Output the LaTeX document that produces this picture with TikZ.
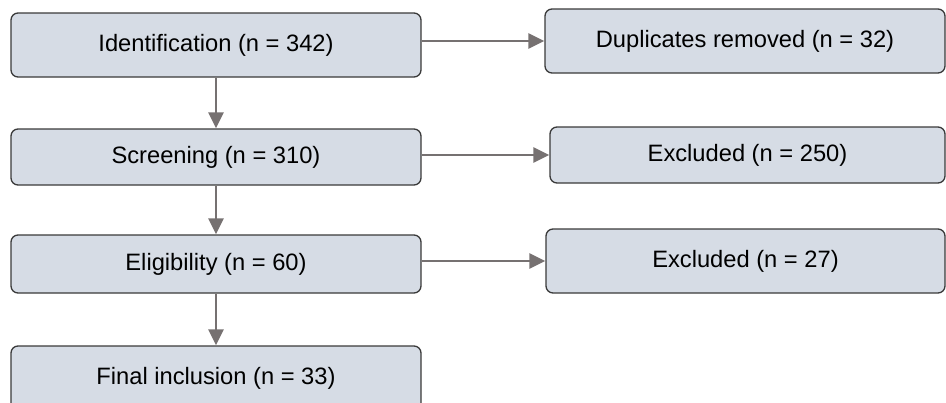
\documentclass[tikz,border=0pt]{standalone}
\usepackage{fontspec}
\setmainfont{Liberation Sans}
\usetikzlibrary{arrows.meta}
\definecolor{boxfill}{HTML}{D6DCE5}
\definecolor{boxline}{HTML}{3A3A3A}
\definecolor{arrgray}{HTML}{767171}
\begin{document}
\begin{tikzpicture}[x=1pt,y=-1pt,
  stagebox/.style={draw=boxline, fill=boxfill, line width=1.3pt, rounded corners=7pt,
    inner sep=0pt, minimum width=#1, font=\fontsize{23.7}{28}\selectfont},
  stagebox/.default=410pt,
  arr/.style={draw=arrgray, line width=2.6pt, -{Triangle[length=16pt,width=15pt]}}]
\useasboundingbox (0,0) rectangle (946,402);
\node[stagebox, minimum height=64pt] (L1) at (216,45) {Identification (n = 342)};
\node[stagebox, minimum height=56pt] (L2) at (216,157) {Screening (n = 310)};
\node[stagebox, minimum height=58pt] (L3) at (216,264) {Eligibility (n = 60)};
\node[stagebox, minimum height=64pt] (L4) at (216,378) {Final inclusion (n = 33)};
\node[stagebox=400pt, minimum height=64pt] (R1) at (745,41) {Duplicates removed (n = 32)};
\node[stagebox=395pt, minimum height=56pt] (R2) at (747.5,155) {Excluded (n = 250)};
\node[stagebox=399pt, minimum height=64pt] (R3) at (745.5,261) {Excluded (n = 27)};
\draw[arr] (L1.south) -- (L2.north);
\draw[arr] (L2.south) -- (L3.north);
\draw[arr] (L3.south) -- (L4.north);
\draw[arr] (L1.east |- R1.west) -- (R1.west);
\draw[arr] (L2.east |- R2.west) -- (R2.west);
\draw[arr] (L3.east |- R3.west) -- (R3.west);
\end{tikzpicture}
\end{document}
